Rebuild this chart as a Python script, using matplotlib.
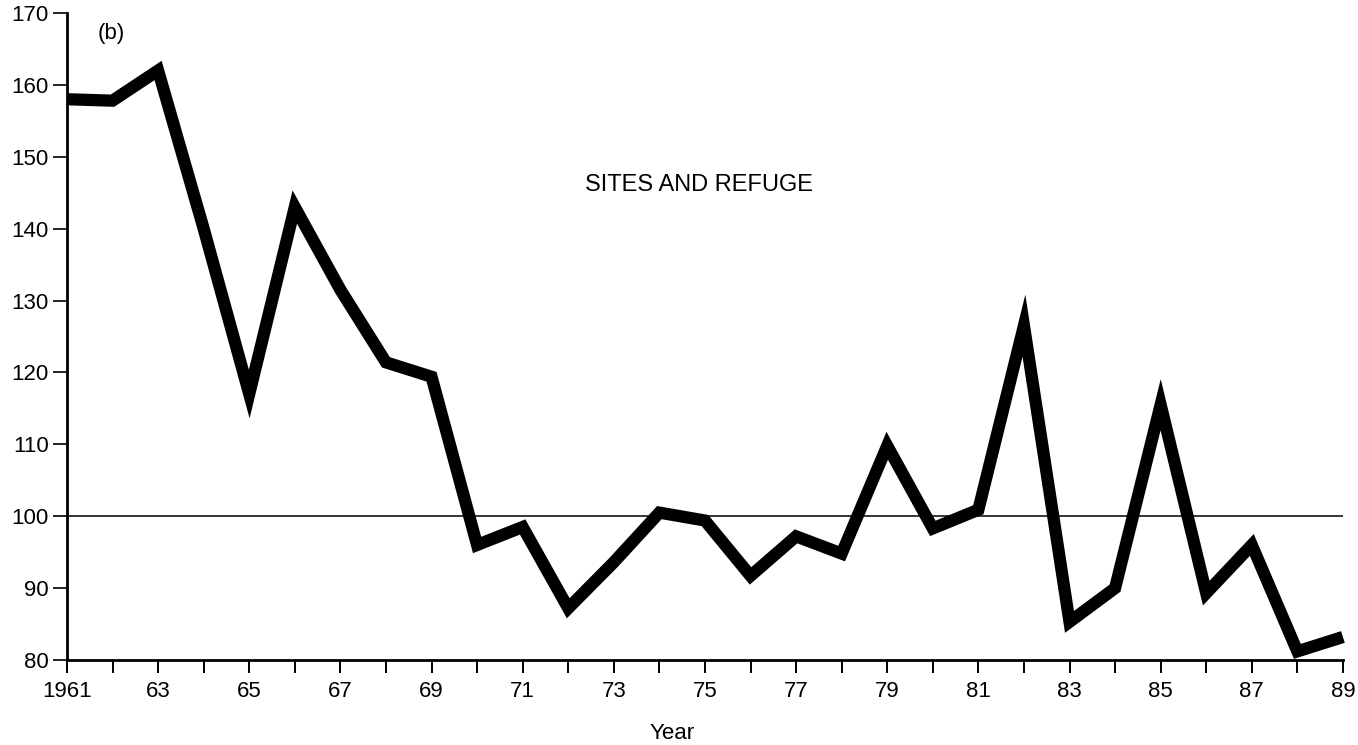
import matplotlib.pyplot as plt

plt.rcParams['font.family'] = ['Liberation Sans', 'DejaVu Sans']

# Index values by year
years = list(range(1961, 1990))
index = [158, 157.8, 162, 140, 117, 143, 131.5, 121.4, 119.4, 96,
         98.5, 87.2, 93.6, 100.5, 99.4, 91.7, 97.2, 94.8, 109.8, 98.3,
         100.9, 126.5, 85.3, 90, 115.5, 89.3, 96, 81.2, 83.2]

y_ticks = list(range(80, 171, 10))
x_labels = ['1961' if y == 1961 else ('%02d' % (y % 100) if y % 2 == 1 else '')
            for y in years]

fig = plt.figure(figsize=(13.58, 7.45), dpi=100)
ax = fig.add_axes([0.0493, 0.1141, 0.9396, 0.8685])

# baseline at 100
ax.axhline(100, color='black', lw=1.1, zorder=1)
ax.plot(years, index, color='black', lw=8.8, solid_joinstyle='miter',
        solid_capstyle='butt', clip_on=False, zorder=3)

ax.set_xlim(1961, 1989)
ax.set_ylim(80, 170)
ax.set_xticks(years)
ax.set_xticklabels(x_labels)
ax.set_yticks(y_ticks)

for side in ['top', 'right']:
    ax.spines[side].set_visible(False)
for side in ['left', 'bottom']:
    ax.spines[side].set_linewidth(2.0)

ax.tick_params(axis='x', direction='out', length=9.5, width=1.4, pad=5.5, labelsize=16)
ax.tick_params(axis='y', direction='out', length=10, width=1.2, pad=3, labelsize=16)

ax.set_xlabel('Year', fontsize=16)
ax.xaxis.set_label_coords(0.474, -0.097)

ax.text(0.024, 0.968, '(b)', transform=ax.transAxes, fontsize=16,
        ha='left', va='center')
ax.text(0.406, 0.734, 'SITES AND REFUGE', transform=ax.transAxes, fontsize=17,
        ha='left', va='center')

fig.savefig('out.png', dpi=100)
